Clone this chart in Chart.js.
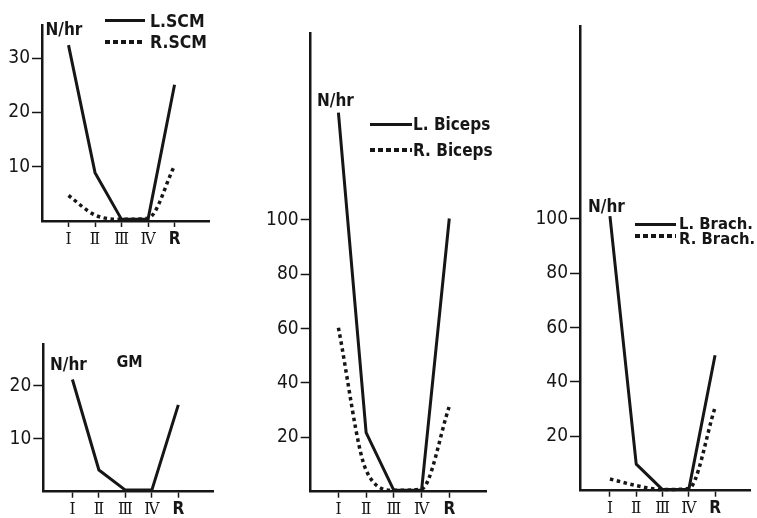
<!DOCTYPE html>
<html><head><meta charset="utf-8">
<script src="https://cdn.jsdelivr.net/npm/chart.js@4"></script>
<style>
html,body{margin:0;padding:0;background:#fff;}
body{width:757px;height:518px;position:relative;overflow:hidden;}
canvas{position:absolute;}
.t{position:absolute;font-family:"DejaVu Sans Condensed","DejaVu Sans",sans-serif;font-weight:bold;font-size:17px;color:#161616;line-height:1;white-space:pre;}
.ls{position:absolute;height:3px;background:#161616;}
.ld{position:absolute;height:4px;background:repeating-linear-gradient(to right,#161616 0 5px,transparent 5px 8px);}
</style></head><body>
<canvas id="c1" width="215" height="262" style="left:0;top:0;width:215px;height:262px"></canvas>
<canvas id="c2" width="220" height="198" style="left:0;top:320px;width:220px;height:198px"></canvas>
<canvas id="c3" width="232" height="518" style="left:260px;top:0;width:232px;height:518px"></canvas>
<canvas id="c4" width="227" height="518" style="left:530px;top:0;width:227px;height:518px"></canvas>

<div class="t" style="left:45.5px;top:21.3px">N/hr</div>
<div class="ls" style="left:105px;top:18.5px;width:40px"></div>
<div class="t" style="left:150px;top:12.6px;font-size:17.5px">L.SCM</div>
<div class="ld" style="left:105px;top:40px;width:40px"></div>
<div class="t" style="left:150px;top:34.3px;font-size:17.5px">R.SCM</div>

<div class="t" style="left:50px;top:356.3px">N/hr</div>
<div class="t" style="left:116.5px;top:353.5px;font-size:16px">GM</div>

<div class="t" style="left:317px;top:92.3px">N/hr</div>
<div class="ls" style="left:370px;top:122.5px;width:42px"></div>
<div class="t" style="left:413px;top:115.8px">L. Biceps</div>
<div class="ld" style="left:370px;top:148px;width:42px"></div>
<div class="t" style="left:413px;top:141.8px">R. Biceps</div>

<div class="t" style="left:588px;top:198px">N/hr</div>
<div class="ls" style="left:635px;top:222.5px;width:41px"></div>
<div class="t" style="left:679px;top:216px;font-size:16.5px">L. Brach.</div>
<div class="ld" style="left:635px;top:234px;width:41px"></div>
<div class="t" style="left:679px;top:231px;font-size:16.5px">R. Brach.</div>

<script>
const categories = ['Ⅰ','Ⅱ','Ⅲ','Ⅳ','R'];
const lSCM    = [32.4, 8.9, 0.3, 0.3, 25.1];
const rSCM    = [4.7, 1.1, 0.3, 0.5, 10.2];
const gm      = [21.2, 4.1, 0.3, 0.3, 16.4];
const lBiceps = [139.5, 21.7, 0.5, 0.5, 100.5];
const rBiceps = [60.3, 7.9, 0.5, 1.0, 31.4];
const lBrach  = [101, 9.8, 0.4, 0.4, 49.8];
const rBrach  = [4.3, 1.9, 0.4, 0.8, 30.6];
const ticksSCM = [10, 20, 30];
const ticksGM  = [10, 20];
const ticksArm = [20, 40, 60, 80, 100];

const INK = '#161616';
function pts(vals){ return vals.map((v,i)=>({x:i+1, y:v})); }
function solid(vals){ return {data:pts(vals), borderColor:INK, borderWidth:3, tension:0, pointRadius:0, clip:false, borderJoinStyle:'round'}; }
function dotted(vals){ return {data:pts(vals), borderColor:INK, borderWidth:3.5, borderDash:[3.5,3.5], cubicInterpolationMode:'monotone', pointRadius:0, clip:false, borderCapStyle:'butt'}; }

function makeChart(id, c){
  new Chart(document.getElementById(id), {
    type:'line',
    data:{datasets:c.datasets},
    options:{
      responsive:false, animation:false, devicePixelRatio:1,
      layout:{padding:{left:0, top:c.pt, right:c.pr, bottom:c.pb}},
      plugins:{legend:{display:false}, tooltip:{enabled:false}},
      scales:{
        x:{type:'linear', min:c.xMin, max:c.xMax,
          afterBuildTicks:s=>{ s.ticks=[1,2,3,4,5].map(v=>({value:v})); },
          afterFit:s=>{ s.height=c.xH; },
          grid:{drawOnChartArea:false, drawTicks:true, tickLength:6, tickColor:INK, tickWidth:1.5},
          border:{display:true, color:INK, width:2.5},
          ticks:{autoSkip:false, maxRotation:0, padding:2, color:INK,
            callback:v=>categories[v-1] ?? '',
            font:ctx=> ctx.index===4 ? {family:'DejaVu Sans Condensed', size:17, weight:'bold'} : {family:'DejaVu Serif Condensed', size:17}}
        },
        y:{type:'linear', min:0, max:c.yMax,
          afterBuildTicks:s=>{ s.ticks=c.yTicks.map(v=>({value:v})); },
          afterFit:s=>{ s.width=c.yW; },
          grid:{drawOnChartArea:false, drawTicks:true, tickLength:10, tickColor:INK, tickWidth:1.5},
          border:{display:true, color:INK, width:2.5},
          ticks:{padding:2, color:INK, font:{family:'DejaVu Sans Condensed', size:19}}
        }
      }
    }
  });
}

makeChart('c1', {pt:25, pr:6, pb:11, xH:30, yW:42, xMin:0, xMax:6.3, yMax:36.1, yTicks:ticksSCM,
  datasets:[solid(lSCM), dotted(rSCM)]});
makeChart('c2', {pt:24, pr:7, pb:2.3, xH:24, yW:43.3, xMin:-0.1, xMax:6.31, yMax:27.9, yTicks:ticksGM,
  datasets:[solid(gm)]});
makeChart('c3', {pt:33, pr:5.3, pb:2.3, xH:24, yW:50.7, xMin:0, xMax:6.35, yMax:168.75, yTicks:ticksArm,
  datasets:[solid(lBiceps), dotted(rBiceps)]});
makeChart('c4', {pt:26.7, pr:7, pb:3.3, xH:24, yW:50, xMin:-0.14, xMax:6.33, yMax:170.7, yTicks:ticksArm,
  datasets:[solid(lBrach), dotted(rBrach)]});
</script>
</body></html>
